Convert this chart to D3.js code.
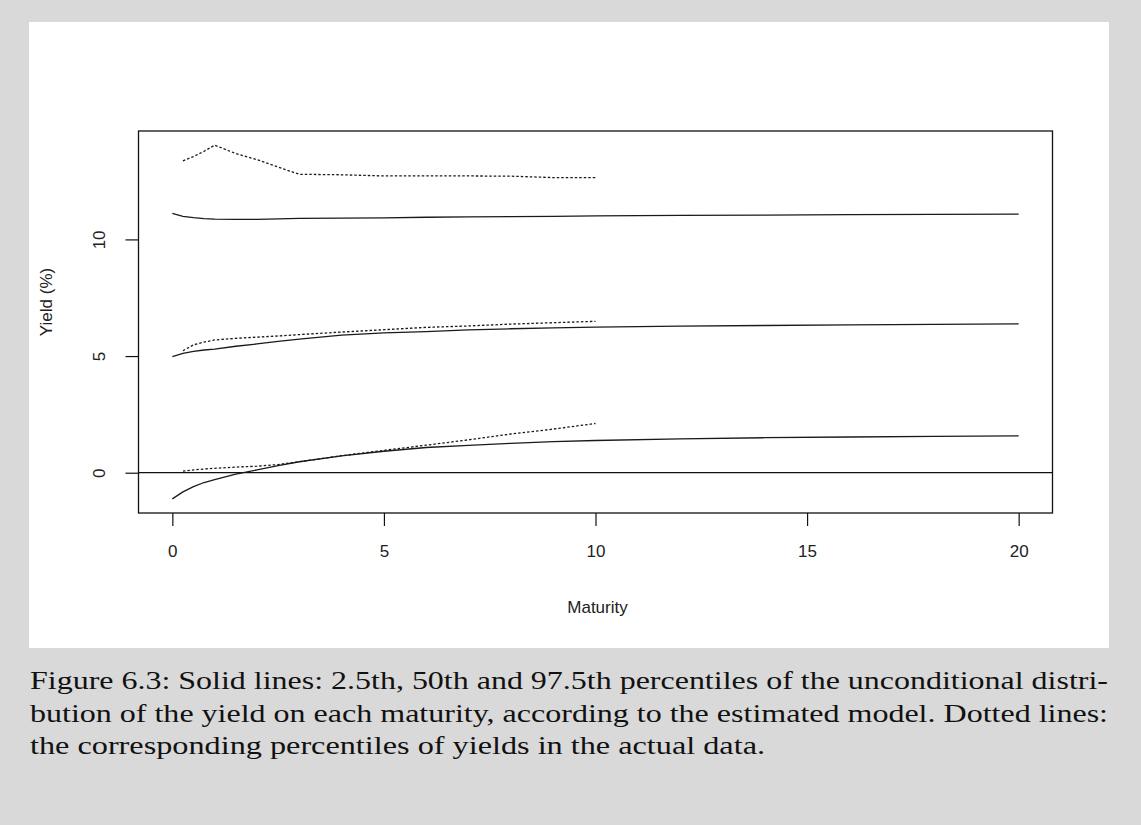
<!DOCTYPE html>
<html>
<head>
<meta charset="utf-8">
<script src="https://cdn.jsdelivr.net/npm/d3@7"></script>
<style>
  html, body { margin: 0; padding: 0; background: #d9d9d9; }
  svg { display: block; }
</style>
</head>
<body>
<svg id="fig" width="1141" height="825"></svg>
<script>
// Maturities (years) at which the model percentiles were evaluated
const modelMaturity = [0, 0.25, 0.5, 0.75, 1, 1.5, 2, 2.5, 3, 4, 5, 6, 7, 8, 9, 10, 12, 14, 16, 18, 20];
// Model percentiles of the yield (%)
const modelP025 = [-1.12, -0.82, -0.6, -0.42, -0.3, -0.06, 0.12, 0.3, 0.47, 0.72, 0.92, 1.08, 1.17, 1.26, 1.33, 1.38, 1.45, 1.5, 1.53, 1.56, 1.58];
const modelP500 = [4.98, 5.12, 5.2, 5.26, 5.3, 5.42, 5.52, 5.63, 5.73, 5.9, 5.99, 6.05, 6.12, 6.17, 6.21, 6.24, 6.28, 6.31, 6.34, 6.36, 6.38];
const modelP975 = [11.12, 10.99, 10.93, 10.89, 10.87, 10.86, 10.86, 10.88, 10.9, 10.91, 10.92, 10.95, 10.97, 10.98, 10.99, 11.01, 11.03, 11.04, 11.06, 11.07, 11.08];

// Maturities observed in the data
const dataMaturity = [0.25, 0.5, 0.75, 1, 1.5, 2, 2.5, 3, 4, 5, 6, 7, 8, 9, 10];
// Empirical percentiles of the yield (%)
const dataP025 = [0.07, 0.12, 0.16, 0.19, 0.24, 0.28, 0.35, 0.47, 0.73, 0.96, 1.18, 1.41, 1.66, 1.87, 2.11];
const dataP500 = [5.23, 5.48, 5.6, 5.69, 5.76, 5.81, 5.86, 5.92, 6.03, 6.13, 6.23, 6.29, 6.37, 6.43, 6.49];
const dataP975 = [13.37, 13.55, 13.78, 14.04, 13.68, 13.42, 13.1, 12.79, 12.77, 12.72, 12.72, 12.72, 12.71, 12.65, 12.65];

const xTicks = [0, 5, 10, 15, 20];
const yTicks = [0, 5, 10];

const xLabel = "Maturity";
const yLabel = "Yield (%)";
const captionLines = [
  "Figure 6.3: Solid lines: 2.5th, 50th and 97.5th percentiles of the unconditional distri-",
  "bution of the yield on each maturity, according to the estimated model. Dotted lines:",
  "the corresponding percentiles of yields in the actual data."
];

const svg = d3.select("#fig");

// page background and white figure panel
svg.append("rect").attr("x", 0).attr("y", 0).attr("width", 1141).attr("height", 825).attr("fill", "#d9d9d9");
svg.append("rect").attr("x", 29).attr("y", 22).attr("width", 1080).attr("height", 626).attr("fill", "#ffffff");

// plot region
const plot = { left: 138.5, right: 1052.5, top: 131, bottom: 513 };

// R-style 4% padding of the data range
function padded(lo, hi) { const r = hi - lo; return [lo - 0.04 * r, hi + 0.04 * r]; }
const allX = modelMaturity.concat(dataMaturity);
const allY = modelP025.concat(modelP500, modelP975, dataP025, dataP500, dataP975);
const x = d3.scaleLinear().domain(padded(d3.min(allX), d3.max(allX))).range([plot.left, plot.right]);
const y = d3.scaleLinear().domain(padded(d3.min(allY), d3.max(allY))).range([plot.bottom, plot.top]);

const line = d3.line().x(d => x(d[0])).y(d => y(d[1]));
const pairs = (xs, ys) => xs.map((m, i) => [m, ys[i]]);

// zero line
svg.append("line")
  .attr("x1", plot.left).attr("x2", plot.right)
  .attr("y1", y(0)).attr("y2", y(0))
  .attr("stroke", "#111").attr("stroke-width", 1.2);

// model percentiles: solid
[modelP025, modelP500, modelP975].forEach(s => {
  svg.append("path")
    .attr("d", line(pairs(modelMaturity, s)))
    .attr("fill", "none").attr("stroke", "#1a1a1a").attr("stroke-width", 1.3);
});

// empirical percentiles: dotted
[dataP025, dataP500, dataP975].forEach(s => {
  svg.append("path")
    .attr("d", line(pairs(dataMaturity, s)))
    .attr("fill", "none").attr("stroke", "#1a1a1a").attr("stroke-width", 1.3)
    .attr("stroke-dasharray", "2.5,2");
});

// box
svg.append("rect")
  .attr("x", plot.left).attr("y", plot.top)
  .attr("width", plot.right - plot.left).attr("height", plot.bottom - plot.top)
  .attr("fill", "none").attr("stroke", "#111").attr("stroke-width", 1.3);

const fontFam = "'Liberation Sans', Arial, sans-serif";

// x axis
const xAxis = svg.append("g")
  .attr("transform", `translate(0,${plot.bottom})`)
  .call(d3.axisBottom(x).tickValues(xTicks).tickSize(13).tickPadding(19).tickFormat(d3.format("d")));
xAxis.select(".domain").remove();
xAxis.selectAll(".tick line").attr("stroke", "#111").attr("stroke-width", 1.2);
xAxis.selectAll(".tick text")
  .attr("font-family", fontFam).attr("font-size", 17).attr("fill", "#222");

// y axis with rotated tick labels
const yAxis = svg.append("g")
  .attr("transform", `translate(${plot.left},0)`)
  .call(d3.axisLeft(y).tickValues(yTicks).tickSize(13).tickFormat(d3.format("d")));
yAxis.select(".domain").remove();
yAxis.selectAll(".tick line").attr("stroke", "#111").attr("stroke-width", 1.2);
yAxis.selectAll(".tick text")
  .attr("font-family", fontFam).attr("font-size", 17).attr("fill", "#222")
  .attr("x", 0).attr("dy", 0)
  .attr("text-anchor", "middle")
  .attr("transform", "translate(-39,0) rotate(-90)")
  .attr("dominant-baseline", "central");

// axis titles
svg.append("text")
  .attr("x", x(10) + 2).attr("y", 613)
  .attr("text-anchor", "middle")
  .attr("font-family", fontFam).attr("font-size", 17).attr("fill", "#222")
  .text(xLabel);
svg.append("text")
  .attr("transform", `translate(52,${302}) rotate(-90)`)
  .attr("text-anchor", "middle")
  .attr("font-family", fontFam).attr("font-size", 17).attr("fill", "#222")
  .text(yLabel);

// caption
const capWidths = [1078, 1078, 735];
captionLines.forEach((t, i) => {
  svg.append("text")
    .attr("x", 30).attr("y", 689 + i * 32.5)
    .attr("font-family", "'Liberation Serif', 'Times New Roman', serif")
    .attr("font-size", 26).attr("fill", "#111")
    .attr("textLength", capWidths[i]).attr("lengthAdjust", "spacingAndGlyphs")
    .text(t);
});
</script>
</body>
</html>
